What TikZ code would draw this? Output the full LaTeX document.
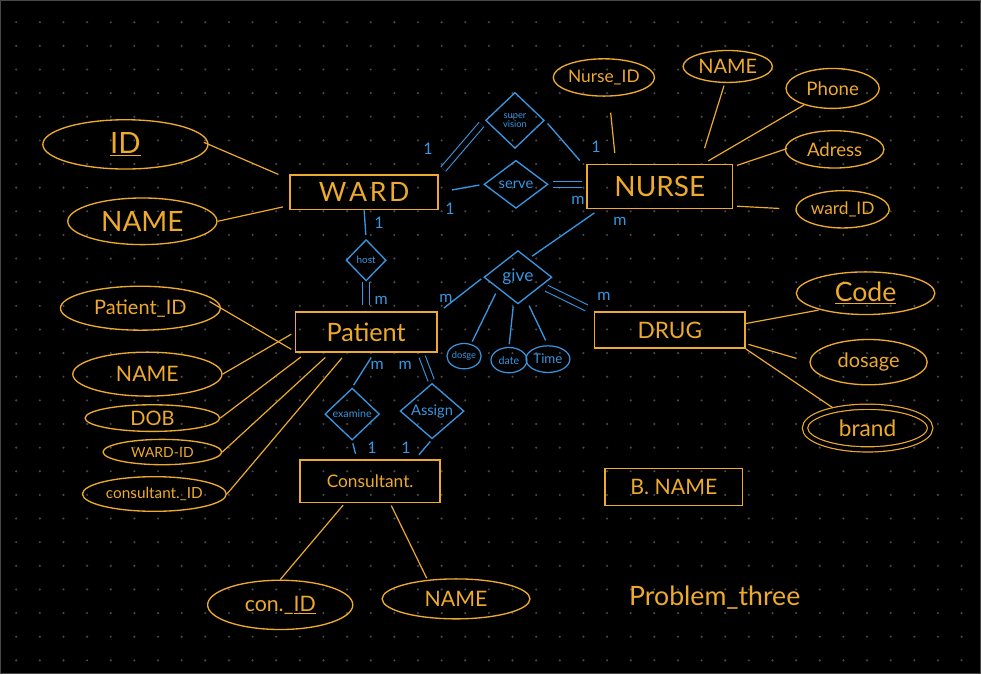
\documentclass[tikz,border=0pt]{standalone}
\usepackage{fontspec}
\setmainfont{Lato}
\usetikzlibrary{shapes.geometric}
\definecolor{penorange}{RGB}{238,170,44}
\definecolor{penblue}{RGB}{56,150,226}
\definecolor{griddot}{RGB}{72,72,72}
\newcommand{\fsz}[1]{\fontsize{#1}{#1}\selectfont}
\tikzset{
  entity/.style={draw=penorange, line width=1.2pt, text=penorange, inner sep=0pt},
  attrib/.style={ellipse, draw=penorange, line width=1pt, text=penorange, inner sep=0pt},
  multattrib/.style={attrib, double=black, double distance=3pt, line width=0.9pt},
  relation/.style={diamond, draw=penblue, line width=1pt, text=penblue, inner sep=0pt, align=center},
  battrib/.style={ellipse, draw=penblue, line width=0.9pt, text=penblue, inner sep=0pt},
  olink/.style={draw=penorange, line width=0.9pt},
  blink/.style={draw=penblue, line width=1pt},
  bdouble/.style={draw=penblue, line width=0.8pt, double=black, double distance=4pt},
  card/.style={text=penblue, font=\fsz{12}, inner sep=0pt},
}
\begin{document}
\begin{tikzpicture}[x=0.75pt,y=-0.75pt]
\fill[black] (0,0) rectangle (981,674);
\draw[griddot,line width=0.8pt] (0,0) rectangle (981,674);
\foreach \i in {0,...,40}
  \foreach \j in {0,...,27}
    \fill[griddot] (15.7+23.66*\i,21.7+23.66*\j) circle (0.9pt);

% entities
\node[entity, minimum width=111pt, minimum height=26pt, font=\fsz{20}] (ward) at (364,192) {W\kern2pt A\kern2pt R\kern2pt D};
\node[entity, minimum width=109pt, minimum height=33pt, font=\fsz{21}] (nurse) at (660,186) {NURSE};
\node[entity, minimum width=106pt, minimum height=30pt, font=\fsz{19}] (patient) at (366,332) {Patient};
\node[entity, minimum width=113pt, minimum height=27pt, font=\fsz{17}] (drug) at (670,330) {DRUG};
\node[entity, minimum width=105pt, minimum height=32pt, font=\fsz{13}] (consultant) at (370,481) {Consultant.};
\node[entity, minimum width=103pt, minimum height=28pt, font=\fsz{16}] (bname) at (674,487) {B. NAME};

% attributes
\node[attrib, minimum width=124pt, minimum height=37pt, font=\fsz{22}] (wid) at (125,144) {\underline{ID}};
\node[attrib, minimum width=112pt, minimum height=35pt, font=\fsz{21}] (wname) at (142,221) {NAME};
\node[attrib, minimum width=76pt, minimum height=28pt, font=\fsz{13}] (nurseid) at (604,77) {Nurse\_ID};
\node[attrib, minimum width=67pt, minimum height=24pt, font=\fsz{15}] (nname) at (728,66) {NAME};
\node[attrib, minimum width=70pt, minimum height=30pt, font=\fsz{14}] (phone) at (833,88) {Phone};
\node[attrib, minimum width=74pt, minimum height=28pt, font=\fsz{14}] (adress) at (835,149) {Adress};
\node[attrib, minimum width=70pt, minimum height=28pt, font=\fsz{13}] (wardid) at (843,209) {ward\_ID};
\node[attrib, minimum width=120pt, minimum height=33pt, font=\fsz{15}] (patid) at (140,308) {Patient\_ID};
\node[attrib, minimum width=112pt, minimum height=33pt, font=\fsz{16}] (pname) at (147,374) {NAME};
\node[attrib, minimum width=101pt, minimum height=20pt, font=\fsz{15}] (dob) at (152,418) {DOB};
\node[attrib, minimum width=89pt, minimum height=19pt, font=\fsz{10.5}] (pwardid) at (162,452) {WARD-ID};
\node[attrib, minimum width=108pt, minimum height=26pt, font=\fsz{11.5}] (pconsid) at (154,494) {consultant.\_ID};
\node[attrib, minimum width=104pt, minimum height=32pt, font=\fsz{20}] (code) at (866,293) {\underline{Code}};
\node[attrib, minimum width=88pt, minimum height=34pt, font=\fsz{15}] (dosage) at (869,362) {dosage};
\node[multattrib, minimum width=94pt, minimum height=32pt, font=\fsz{17}] (brand) at (868,428) {brand};
\node[attrib, minimum width=109pt, minimum height=37pt, font=\fsz{16}] (conid) at (280,605) {con.\_\underline{ID}};
\node[attrib, minimum width=111pt, minimum height=30pt, font=\fsz{16}] (cname) at (456,599) {NAME};

% relationships
\node[relation, minimum width=44pt, minimum height=42pt, font=\fsz{7}] (supervise) at (515,120) {super\\vision};
\node[relation, minimum width=48pt, minimum height=36pt, font=\fsz{11}] (serve) at (516,184) {serve};
\node[relation, minimum width=30pt, minimum height=31pt, font=\fsz{7.5}] (host) at (366,260) {host};
\node[relation, minimum width=51pt, minimum height=40pt, font=\fsz{13}] (give) at (518,277) {give};
\node[relation, minimum width=41pt, minimum height=39pt, font=\fsz{8}] (examine) at (352,414) {examine};
\node[relation, minimum width=48pt, minimum height=35pt, font=\fsz{11}] (assign) at (432,411) {Assign};

% give attributes
\node[battrib, minimum width=25pt, minimum height=19pt, font=\fsz{7}] (gdosage) at (464,356) {dosge};
\node[battrib, minimum width=27pt, minimum height=19pt, font=\fsz{8}] (gdate) at (509,360) {date};
\node[battrib, minimum width=33pt, minimum height=20pt, font=\fsz{10}] (gtime) at (548,359) {Time};

% attribute links
\draw[olink, shorten <=-4pt, shorten >=9pt] (wid.east) -- (ward.170);
\draw[olink, shorten >=5pt] (wname.east) -- (ward.190);
\draw[olink, shorten <=12pt, shorten >=8pt] (nurseid.-75) -- ([xshift=-33pt]nurse.north);
\draw[olink, shorten <=2pt, shorten >=12pt] (nname.-100) -- ([xshift=30pt]nurse.north);
\draw[olink, shorten >=4pt] (phone.-150) -- ([xshift=33pt]nurse.north);
\draw[olink, shorten <=-2pt, shorten >=3pt] (adress.west) -- (nurse.15);
\draw[olink, shorten <=12pt, shorten >=3pt] (wardid.west) -- (nurse.-15);
\draw[olink, shorten <=-10pt, shorten >=3pt] (patid.east) -- (patient.195);
\draw[olink, shorten >=3pt] (pname.east) -- (patient.west);
\draw[olink, shorten >=5pt] (dob.east) -- ([xshift=-45pt]patient.south);
\draw[olink, shorten >=5pt] (pwardid.east) -- ([xshift=-27pt]patient.south);
\draw[olink, shorten >=5pt] (pconsid.east) -- ([xshift=-15pt]patient.south);
\draw[olink, shorten >=1pt] (drug.5) -- (code.-160);
\draw[olink, shorten <=2pt, shorten >=10pt] (drug.-10) -- (dosage.west);
\draw[olink, shorten >=2pt] (drug.south east) -- (brand.150);
\draw[olink, shorten <=2pt] ([xshift=-19pt]consultant.south) -- (conid.north);
\draw[olink, shorten <=2pt] ([xshift=15pt]consultant.south) -- ([xshift=-22pt]cname.north);

% relationship links
\draw[bdouble, shorten <=5pt, shorten >=4pt] (ward.north east) -- (supervise.west);
\draw[blink, shorten <=3pt, shorten >=3pt] (supervise.east) -- ([xshift=-3pt]nurse.north west);
\draw[blink, shorten <=10pt, shorten >=3pt] (ward.east) -- (serve.west);
\draw[bdouble, shorten <=3pt, shorten >=3pt] (serve.east) -- (nurse.west |- serve.east);
\draw[blink, shorten >=3pt] (ward.south) -- (host.north);
\draw[bdouble, shorten >=5pt] (host.south) -- (patient.north);
\draw[blink, shorten <=3pt, shorten >=5pt] (give.60) -- ([xshift=-45pt]nurse.south);
\draw[blink, shorten <=2pt, shorten >=6pt] (give.west) -- (patient.15);
\draw[bdouble, shorten <=4pt, shorten >=6pt] (give.-20) -- (drug.north west);
\draw[blink, shorten <=4pt, shorten >=2pt] (give.-150) -- (gdosage.60);
\draw[blink, shorten <=4pt, shorten >=2pt] (give.-100) -- (gdate.north);
\draw[blink, shorten <=6pt, shorten >=4pt] (give.-70) -- (gtime.north);
\draw[blink, shorten <=4pt, shorten >=2pt] ([xshift=6pt]patient.south) -- (examine.north);
\draw[bdouble, shorten <=3pt, shorten >=2pt] ([xshift=41pt]patient.south) -- (assign.north);
\draw[blink, shorten <=2pt, shorten >=4pt] (examine.south) -- ([xshift=-10pt]consultant.north);
\draw[blink, shorten <=2pt, shorten >=4pt] (assign.south) -- ([xshift=34pt]consultant.north);

% cardinalities
\node[card] (c1) at (428,148) {1};
\node[card] (c2) at (596,146) {1};
\node[card] (c3) at (450,208) {1};
\node[card] (c4) at (578,200) {m};
\node[card] (c5) at (379,222) {1};
\node[card] (c6) at (381,300) {m};
\node[card] (c7) at (620,221) {m};
\node[card] (c8) at (446,298) {m};
\node[card] (c9) at (604,296) {m};
\node[card] (c10) at (377,365) {m};
\node[card] (c11) at (405,365) {m};
\node[card] (c12) at (372,448) {1};
\node[card] (c13) at (406,448) {1};

\node[text=penorange, font=\fsz{20}] (title) at (715,598) {Problem\_three};
\end{tikzpicture}
\end{document}
